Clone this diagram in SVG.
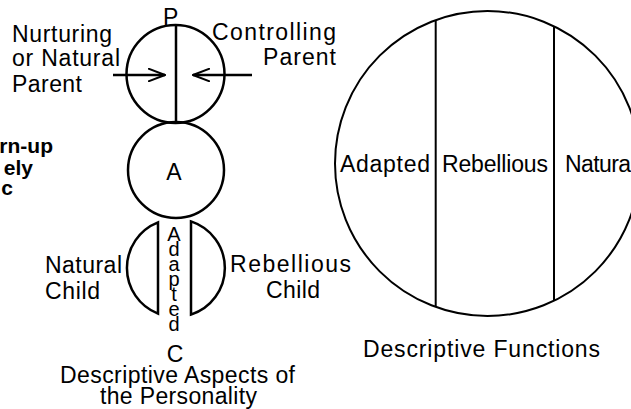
<svg xmlns="http://www.w3.org/2000/svg" width="631" height="409" viewBox="0 0 631 409">
<style>
  .ln { fill: none; stroke: #000; stroke-width: 2.5; }
  .thin { fill: none; stroke: #000; stroke-width: 2; }
  text { font-family: "Liberation Sans", Arial, sans-serif; font-size: 23px; fill: #000; }
  .b { font-weight: bold; font-size: 21px; }
  .vert { font-size: 20px; writing-mode: vertical-rl; text-orientation: upright; letter-spacing: -7px; }
</style>
<defs>
  <marker id="arr" markerUnits="userSpaceOnUse" viewBox="0 0 18 14" refX="17" refY="7" markerWidth="18" markerHeight="14" orient="auto">
    <path d="M0,0.5 L17,7 L0,13.5" fill="none" stroke="#000" stroke-width="2"/>
  </marker>
</defs>
<rect width="631" height="409" fill="#fff"/>

<g id="grownup-text">
  <text class="b" x="53" y="153" text-anchor="end">rn-up</text>
  <text class="b" x="33" y="175" text-anchor="end">ely</text>
  <text class="b" x="13" y="195" text-anchor="end">c</text>
</g>

<g id="parent">
  <circle class="ln" cx="175.5" cy="74" r="49"/>
  <line class="ln" x1="176" y1="25" x2="176" y2="123"/>
  <text x="163" y="25" font-size="22">P</text>
  <text x="12" y="42" textLength="100" lengthAdjust="spacing">Nurturing</text>
  <text x="12" y="66" textLength="108" lengthAdjust="spacing">or Natural</text>
  <text x="12" y="92" textLength="70" lengthAdjust="spacing">Parent</text>
  <text x="212" y="40" textLength="124" lengthAdjust="spacing">Controlling</text>
  <text x="263" y="65" textLength="73" lengthAdjust="spacing">Parent</text>
</g>

<g id="adult">
  <circle class="ln" cx="176" cy="170" r="48"/>
  <text x="174" y="180" text-anchor="middle" font-size="22">A</text>
</g>

<g id="child">
  <path class="ln" d="M158,222.4 A49,49 0 0 0 158,313.6 Z"/>
  <path class="ln" d="M191,221.4 A49,49 0 0 1 191,314.6 Z"/>
  <text class="vert" x="174" y="223">Adapted</text>
  <text x="175" y="362" font-size="22" text-anchor="middle">C</text>
  <text x="45" y="273" textLength="77" lengthAdjust="spacing">Natural</text>
  <text x="45" y="299" textLength="55" lengthAdjust="spacing">Child</text>
  <text x="230" y="272" textLength="121" lengthAdjust="spacing">Rebellious</text>
  <text x="266" y="298" textLength="54" lengthAdjust="spacing">Child</text>
  <text x="60" y="383" textLength="235" lengthAdjust="spacing">Descriptive Aspects of</text>
  <text x="100" y="404" textLength="157" lengthAdjust="spacing">the Personality</text>
</g>

<g id="functions">
  <circle class="thin" cx="487.5" cy="163.5" r="152.5"/>
  <line class="thin" x1="435.7" y1="20" x2="435.7" y2="307"/>
  <line class="thin" x1="554" y1="26" x2="554" y2="301"/>
  <text x="340" y="172" textLength="90" lengthAdjust="spacing">Adapted</text>
  <text x="442" y="172" textLength="106" lengthAdjust="spacing">Rebellious</text>
  <text x="565" y="172" textLength="66" lengthAdjust="spacing">Natura</text>
  <text x="363" y="357" textLength="237" lengthAdjust="spacing">Descriptive Functions</text>
</g>

<g id="connectors">
  <line class="ln" x1="113" y1="75" x2="165" y2="75" marker-end="url(#arr)"/>
  <line class="ln" x1="252" y1="75" x2="193" y2="75" marker-end="url(#arr)"/>
</g>
</svg>
